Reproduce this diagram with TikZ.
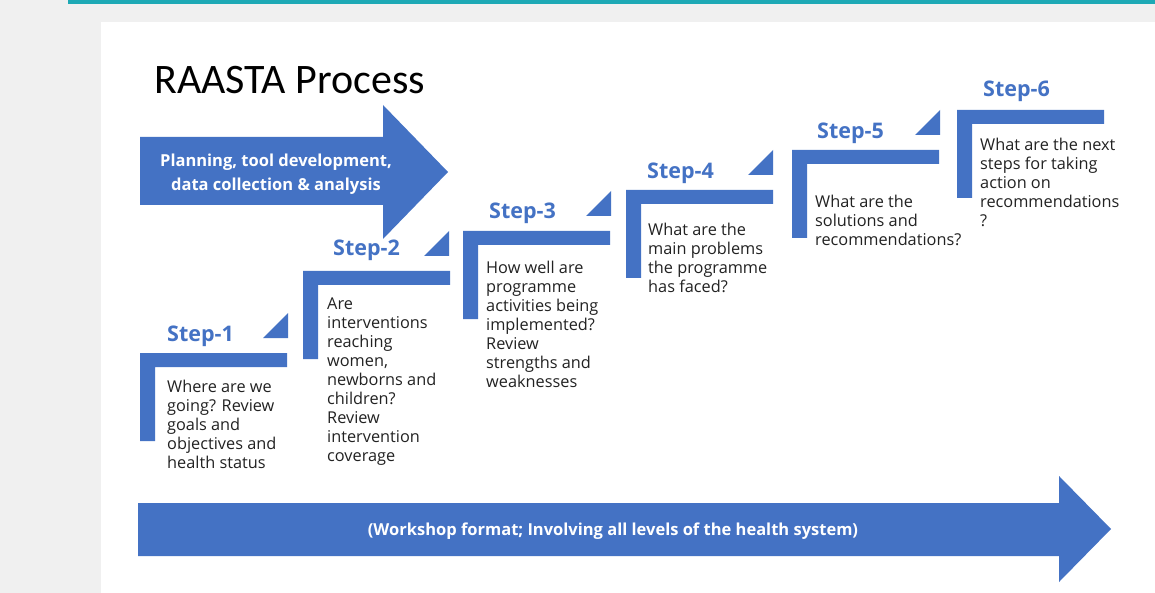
\documentclass[tikz,border=0pt]{standalone}
\usepackage{fontspec}
\setmainfont{Open Sans}
\newfontfamily\titlefont{Carlito}
\definecolor{officeblue}{HTML}{4472C4}
\definecolor{pagegray}{HTML}{F0F0F0}
\definecolor{tealrule}{HTML}{1DA9B5}
\definecolor{bodytext}{HTML}{222222}
\tikzset{
  steplabel/.style={anchor=base west, inner sep=0pt, text=officeblue,
    font=\fontsize{21.5}{24}\selectfont\bfseries},
  stepquestion/.style={anchor=base west, inner sep=0pt, text=bodytext,
    font=\fontsize{16.3}{19}\selectfont},
  arrowtext/.style={inner sep=0pt, align=center, text=white,
    font=\fontsize{16.5}{24}\selectfont\bfseries},
}
% question text whose reference point is the baseline of its first line
\newcommand{\qlines}[1]{\begin{tabular}[t]{@{}l@{}}#1\end{tabular}}
% one step: L-shaped bracket with its top-left corner at (#1,#2)
\newcommand{\stepbracket}[2]{%
  \fill[officeblue] (#1,#2) -- ++(147,0) -- ++(0,14) -- ++(-132,0) -- ++(0,74)
    -- ++(-15,0) -- cycle;}
% small right triangle ending at the bracket's right end
\newcommand{\steptick}[2]{%
  \fill[officeblue] (#1,#2-15) -- ++(-25,0) -- ++(25,-25) -- cycle;}
\begin{document}
\begin{tikzpicture}[x=1pt, y=-1pt]
  % page and panel
  \fill[pagegray] (0,0) rectangle (1155,593);
  \useasboundingbox (0,0) rectangle (1155,593);
  \fill[white] (101,22) rectangle (1155,593);
  \fill[tealrule] (68,0) rectangle (1155,4);

  % title
  \node[anchor=base west, inner sep=0pt, font=\titlefont\fontsize{42}{46}\selectfont,
        text=black] (title) at (154,94) {RAASTA Process};

  % top arrow
  \fill[officeblue] (140,137) -- (383,137) -- (383,105) -- (448,172) -- (383,239)
    -- (383,205) -- (140,205) -- cycle;
  \node[arrowtext] (prep) at (276,174) {Planning, tool development,\\data collection \& analysis};

  % bottom arrow
  \fill[officeblue] (138,503) -- (1059,503) -- (1059,476) -- (1111,529) -- (1059,582)
    -- (1059,556) -- (138,556) -- cycle;
  \node[arrowtext] (workshop) at (613,531) {(Workshop format; Involving all levels of the health system)};

  % step brackets
  \stepbracket{140}{353}
  \stepbracket{303}{271}
  \stepbracket{463}{231}
  \stepbracket{626}{190}
  \stepbracket{792}{150}
  \stepbracket{957}{110}
  \steptick{288}{353}
  \steptick{449}{271}
  \steptick{611}{231}
  \steptick{773}{190}
  \steptick{940}{150}

  % step labels
  \node[steplabel] (s1) at (167,341) {Step-1};
  \node[steplabel] (s2) at (333,256) {Step-2};
  \node[steplabel] (s3) at (489,219) {Step-3};
  \node[steplabel] (s4) at (647,179) {Step-4};
  \node[steplabel] (s5) at (817,139) {Step-5};
  \node[steplabel] (s6) at (983,97) {Step-6};

  % step questions
  \node[stepquestion] (q1) at (167,392) {\qlines{Where are we\\going? Review\\goals and\\objectives and\\health status}};
  \node[stepquestion] (q2) at (327,309) {\qlines{Are\\interventions\\reaching\\women,\\newborns and\\children?\\Review\\intervention\\coverage}};
  \node[stepquestion] (q3) at (486,273) {\qlines{How well are\\programme\\activities being\\implemented?\\Review\\strengths and\\weaknesses}};
  \node[stepquestion] (q4) at (648,236) {\qlines{What are the\\main problems\\the programme\\has faced?}};
  \node[stepquestion] (q5) at (815,208) {\qlines{What are the\\solutions and\\recommendations?}};
  \node[stepquestion] (q6) at (980,151) {\qlines{What are the next\\steps for taking\\action on\\recommendations\\?}};
\end{tikzpicture}
\end{document}
